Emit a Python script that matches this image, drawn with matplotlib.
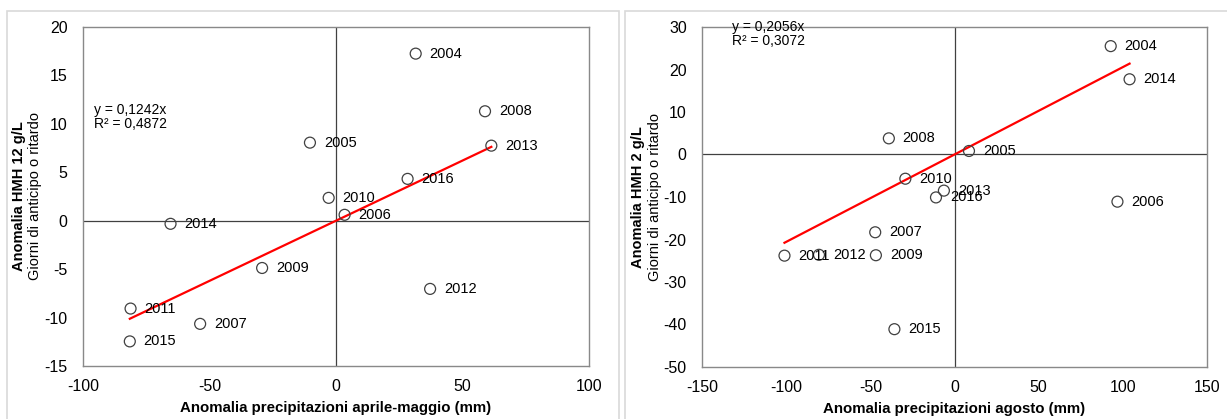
import matplotlib
matplotlib.use("Agg")
import matplotlib.pyplot as plt
from matplotlib.patches import Rectangle

plt.rcParams['font.family'] = ['Liberation Sans', 'DejaVu Sans']
plt.rcParams['axes.unicode_minus'] = False

# left chart: april-may rain anomaly vs HMH 12 g/L
years_am = ["2004", "2008", "2013", "2005", "2016", "2010", "2006",
            "2014", "2009", "2012", "2011", "2007", "2015"]
rain_am = [31.5, 58.9, 61.4, -10.3, 28.3, -2.9, 3.4,
           -65.4, -29.2, 37.2, -81.2, -53.7, -81.5]
hmh12 = [17.25, 11.3, 7.75, 8.06, 4.32, 2.36, 0.61,
         -0.32, -4.88, -7.04, -9.07, -10.65, -12.46]
slope_am = 0.1242
r2_am = "0,4872"

# right chart: august rain anomaly vs HMH 2 g/L
years_ag = ["2004", "2014", "2008", "2005", "2010", "2013", "2016",
            "2006", "2007", "2011", "2012", "2009", "2015"]
rain_ag = [92.8, 104.0, -39.0, 8.6, -29.2, -6.3, -11.0,
           96.8, -47.1, -101.0, -80.5, -46.7, -35.7]
hmh2 = [25.5, 17.7, 3.8, 0.83, -5.7, -8.5, -10.1,
        -11.1, -18.3, -23.8, -23.6, -23.7, -41.1]
slope_ag = 0.2056
r2_ag = "0,3072"

fig = plt.figure(figsize=(12.27, 4.19), dpi=100)

# light gray chart-area frames
for x0, w in [(7, 612), (625, 610)]:
    fig.patches.append(Rectangle((x0 / 1227, -0.1), w / 1227, 1.1 - 11 / 419,
                                 transform=fig.transFigure, fill=False,
                                 edgecolor='#d9d9d9', linewidth=1.2))


def draw(ax, xs, ys, years, slope, r2, xlim, ylim, xticks, yticks,
         xlabel, ylabel_bold, eq_pos):
    ax.set_xlim(xlim)
    ax.set_ylim(ylim)
    ax.set_xticks(xticks)
    ax.set_yticks(yticks)
    ax.tick_params(length=0, labelsize=11.5, colors='#000000')
    ax.tick_params(axis='y', pad=11)
    ax.tick_params(axis='x', pad=9)
    for s in ax.spines.values():
        s.set_color('#898989')
        s.set_linewidth(1.0)
    ax.axhline(0, color='#404040', lw=0.9, zorder=1)
    ax.axvline(0, color='#404040', lw=0.9, zorder=1)

    x0, x1 = min(xs), max(xs)
    ax.plot([x0, x1], [slope * x0, slope * x1], color='#ff0000', lw=1.6, zorder=2)
    ax.scatter(xs, ys, s=62, facecolors='none', edgecolors='#404040',
               linewidths=0.9, zorder=3)
    for x, y, t in zip(xs, ys, years):
        ax.annotate(t, (x, y), xytext=(10, 0), textcoords='offset points',
                    va='center', ha='left', fontsize=10.5, zorder=4)

    eq = "y = " + str(slope).replace(".", ",") + "x\nR² = " + r2
    ax.text(eq_pos[0], eq_pos[1], eq, transform=ax.transAxes, fontsize=10,
            va='top', ha='left', linespacing=1.0)

    ax.text(0.5, -0.124, xlabel, transform=ax.transAxes, ha='center',
            va='center', fontsize=10.8, fontweight='bold')
    ax.text(-0.126, 0.5, ylabel_bold, transform=ax.transAxes, rotation=90,
            ha='center', va='center', fontsize=10.5, fontweight='bold')
    ax.text(-0.094, 0.5, "Giorni di anticipo o ritardo", transform=ax.transAxes,
            rotation=90, ha='center', va='center', fontsize=10.5)


ax1 = fig.add_axes([83 / 1227, 53 / 419, 506 / 1227, 339 / 419])
draw(ax1, rain_am, hmh12, years_am, slope_am, r2_am,
     (-100, 100), (-15, 20), range(-100, 101, 50), range(-15, 21, 5),
     "Anomalia precipitazioni aprile-maggio (mm)", "Anomalia HMH 12 g/L",
     (0.022, 0.775))

ax2 = fig.add_axes([702 / 1227, 52 / 419, 505 / 1227, 340 / 419])
draw(ax2, rain_ag, hmh2, years_ag, slope_ag, r2_ag,
     (-150, 150), (-50, 30), range(-150, 151, 50), range(-50, 31, 10),
     "Anomalia precipitazioni agosto (mm)", "Anomalia HMH 2 g/L",
     (0.06, 1.02))

fig.savefig("out.png", dpi=100)
